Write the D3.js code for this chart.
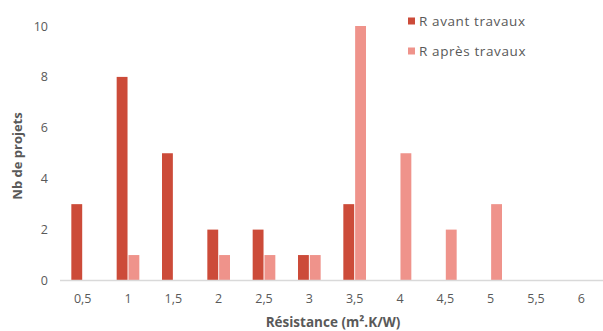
<!DOCTYPE html>
<html><head><meta charset="utf-8">
<script src="https://cdn.jsdelivr.net/npm/d3@7"></script>
<style>body{margin:0;background:#fff}svg{display:block;font-family:"Open Sans",sans-serif}</style>
</head><body><svg id="c" width="603" height="331"></svg>
<script>
const categories = ["0,5","1","1,5","2","2,5","3","3,5","4","4,5","5","5,5","6"];
const avant = [3,8,5,2,2,1,3,0,0,0,0,0];
const apres = [0,1,0,1,1,1,10,5,2,3,0,0];
const seriesNames = ["R avant travaux","R après travaux"];
const colors = ["#cc4b39","#ef938b"];
const yTicks = [0,2,4,6,8,10];

const svg = d3.select("#c");
const x = d3.scaleBand().domain(categories).range([60,604]);
const xs = d3.scaleBand().domain([0,1]).range([x.bandwidth()*0.25, x.bandwidth()*0.75]).paddingInner(0.08);
const y = d3.scaleLinear().domain([0,10]).range([280.5,26]);

const series = [avant, apres];
series.forEach((vals,si)=>{
  svg.append("g").selectAll("rect").data(vals.map((v,i)=>({v,c:categories[i]})).filter(d=>d.v>0))
    .join("rect")
    .attr("x",d=>x(d.c)+xs(si))
    .attr("width",xs.bandwidth())
    .attr("y",d=>y(d.v))
    .attr("height",d=>y(0)-y(d.v))
    .attr("fill",colors[si]);
});

// baseline
svg.append("line").attr("x1",60).attr("x2",603).attr("y1",y(0)).attr("y2",y(0))
  .attr("stroke","#d9d9d9").attr("stroke-width",1.5);

// y axis
const ya = d3.axisLeft(y).tickValues(yTicks).tickSize(0).tickPadding(0);
const gy = svg.append("g").attr("transform","translate(48,0)").call(ya);
gy.select(".domain").remove();
gy.selectAll("text").attr("fill","#595959").style("font-size","12.5px").style("font-family","'Open Sans',sans-serif");

// x axis
const xa = d3.axisBottom(x).tickSize(0).tickPadding(0);
const gx = svg.append("g").attr("transform","translate(0,294)").call(xa);
gx.select(".domain").remove();
gx.selectAll("text").attr("fill","#595959").style("font-size","12.5px").style("font-family","'Open Sans',sans-serif");

// titles
svg.append("text").attr("x",333).attr("y",327).attr("text-anchor","middle")
  .attr("fill","#595959").style("font-size","13.5px").style("font-weight","bold").text("Résistance (m².K/W)");
svg.append("text").attr("transform","translate(22,156) rotate(-90)").attr("text-anchor","middle")
  .attr("fill","#595959").style("font-size","13px").style("font-weight","bold").text("Nb de projets");

// legend
const lg = svg.append("g");
seriesNames.forEach((n,i)=>{
  const yy = 21 + i*30;
  lg.append("rect").attr("x",408).attr("y",yy-3.5).attr("width",7).attr("height",7).attr("fill",colors[i]);
  lg.append("text").attr("x",419).attr("y",yy).attr("dy","0.35em").attr("fill","#595959")
    .style("font-size","13.5px").style("letter-spacing","0.6px").text(n);
});
</script></body></html>
